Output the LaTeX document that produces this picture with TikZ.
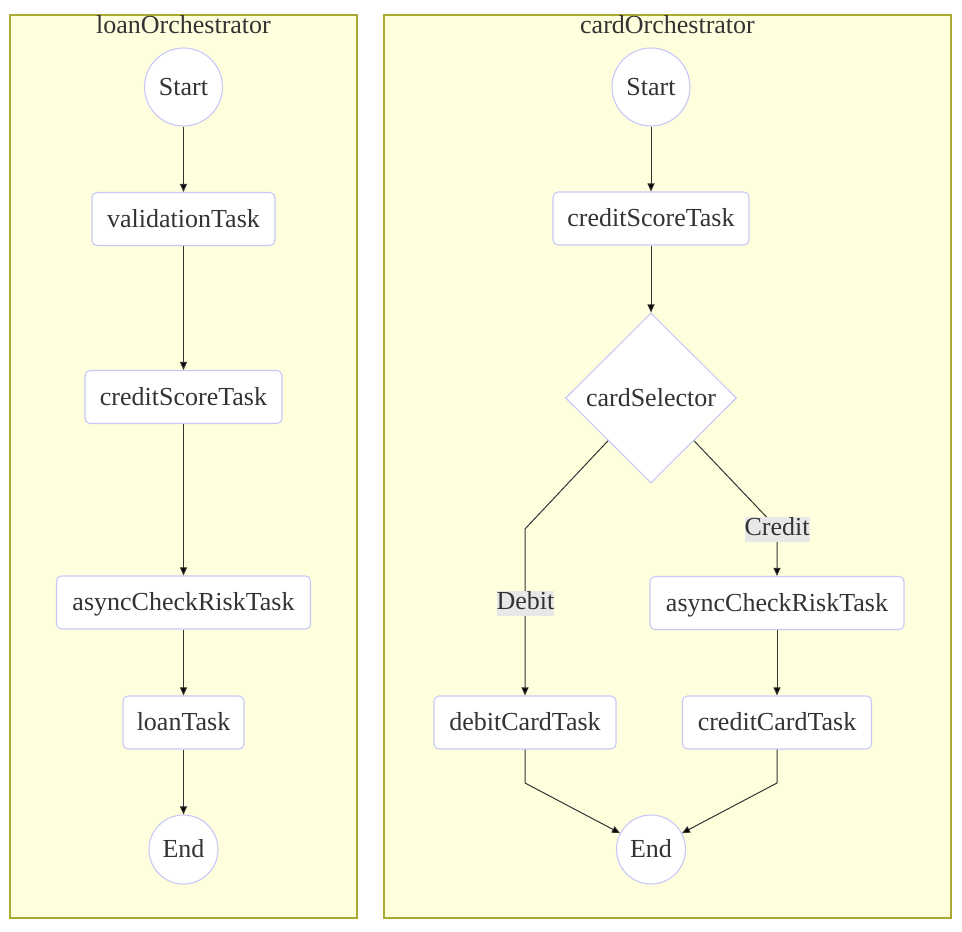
\documentclass[tikz,border=0pt]{standalone}
\usepackage{fontspec}
\setmainfont{Liberation Serif}
\usetikzlibrary{shapes.geometric,arrows.meta}
\definecolor{clusterfill}{HTML}{FFFFDE}
\definecolor{clusterline}{HTML}{AAAA33}
\definecolor{nodeline}{HTML}{C8C8F8}
\definecolor{labelbg}{HTML}{E8E8E8}
\definecolor{txt}{HTML}{333333}
\tikzset{
  clusterbox/.style={draw=clusterline, fill=clusterfill, line width=1.2pt, inner sep=0pt},
  ttl/.style={font=\fontsize{26}{30}\selectfont, text=txt, anchor=base, inner sep=0pt},
  basenode/.style={draw=nodeline, fill=white, line width=1.1pt, font=\fontsize{26}{30}\selectfont, text=txt, inner sep=0pt, text height=18pt, text depth=2pt},
  taskbox/.style={basenode, rectangle, rounded corners=5pt, minimum height=53pt},
  termcircle/.style={basenode, circle},
  decision/.style={basenode, diamond, minimum width=171pt, minimum height=170pt},
  edgelbl/.style={fill=labelbg, font=\fontsize{26}{30}\selectfont, text=txt, inner sep=0pt, text height=18pt, text depth=7pt},
  arr/.style={draw=txt, line width=1pt, -{Triangle[length=8pt,width=7pt,fill=black]}},
}
\begin{document}
\begin{tikzpicture}[x=1pt,y=-1pt]
\useasboundingbox (0,0) rectangle (962,932);
% clusters
\node[clusterbox, minimum width=347pt, minimum height=903pt] (loanC) at (183.5,466.5) {};
\node[clusterbox, minimum width=567pt, minimum height=903pt] (cardC) at (667.5,466.5) {};
\node[ttl] (loanT) at (183.5,33) {loanOrchestrator};
\node[ttl] (cardT) at (667.5,33) {cardOrchestrator};
% left flow
\node[termcircle, minimum size=78pt] (ls) at (183.5,87) {Start};
\node[taskbox, minimum width=183pt] (lval) at (183.5,219) {validationTask};
\node[taskbox, minimum width=197pt] (lcs) at (183.5,397) {creditScoreTask};
\node[taskbox, minimum width=254pt] (lac) at (183.5,602.5) {asyncCheckRiskTask};
\node[taskbox, minimum width=121pt] (lloan) at (183.5,722.5) {loanTask};
\node[termcircle, minimum size=69pt] (le) at (183.5,849.5) {End};
\draw[arr] (ls) -- (lval);
\draw[arr] (lval) -- (lcs);
\draw[arr] (lcs) -- (lac);
\draw[arr] (lac) -- (lloan);
\draw[arr] (lloan) -- (le);
% right flow
\node[termcircle, minimum size=78pt] (rs) at (651,87) {Start};
\node[taskbox, minimum width=196pt] (rcs) at (651,218.5) {creditScoreTask};
\node[decision] (sel) at (651,398) {cardSelector};
\node[taskbox, minimum width=254pt] (rac) at (777,603) {asyncCheckRiskTask};
\node[taskbox, minimum width=182pt] (rdeb) at (525,722.5) {debitCardTask};
\node[taskbox, minimum width=189pt] (rcred) at (777,722.5) {creditCardTask};
\node[termcircle, minimum size=69pt] (re) at (651,849.5) {End};
\coordinate (dbend) at (525,529);
\coordinate (cbend) at (777,528);
\coordinate (dlow) at (525,783);
\coordinate (clow) at (777,783);
\draw[arr] (rs) -- (rcs);
\draw[arr] (rcs) -- (sel);
\draw[arr] (sel.south west) -- (dbend) -- (rdeb.north);
\draw[arr] (sel.south east) -- (cbend) -- (rac.north);
\draw[arr] (rac) -- (rcred);
\draw[arr] (rdeb.south) -- (dlow) -- (re);
\draw[arr] (rcred.south) -- (clow) -- (re);
\node[edgelbl] (ldeb) at (525.5,603.5) {Debit};
\node[edgelbl] (lcred) at (777,529.5) {Credit};
\end{tikzpicture}
\end{document}
